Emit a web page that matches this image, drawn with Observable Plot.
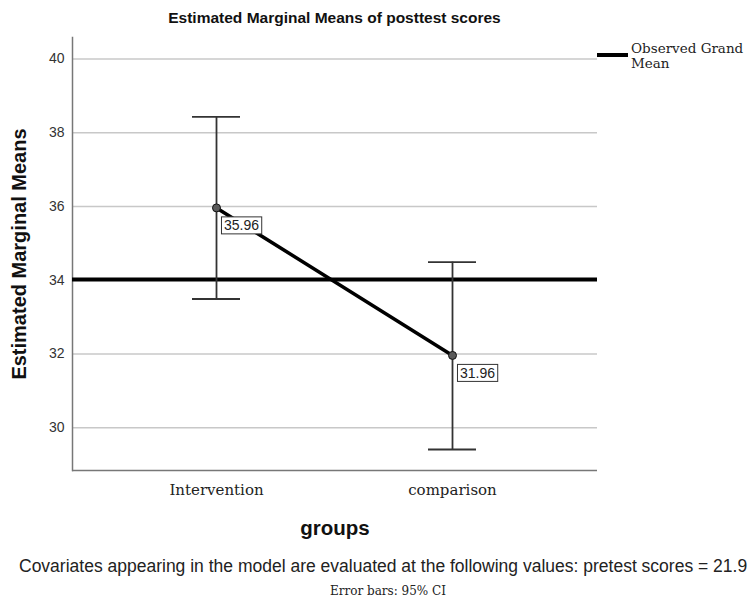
<!DOCTYPE html>
<html><head><meta charset="utf-8">
<script src="https://cdn.jsdelivr.net/npm/d3@7"></script>
<script src="https://cdn.jsdelivr.net/npm/@observablehq/plot@0.6"></script>
<style>
body{margin:0;background:#fff;width:749px;height:606px;overflow:hidden;position:relative;font-family:"Liberation Sans",Arial,sans-serif;color:#111;}
#title{position:absolute;top:8px;left:72px;width:525px;text-align:center;font-weight:bold;font-size:15.5px;line-height:20px;}
#chart{position:absolute;top:30px;left:0;}
#legend{position:absolute;left:597px;top:41px;}
#legend .sw{position:absolute;left:0;top:12px;width:31px;height:4px;background:#000;}
#legend .tx{position:absolute;left:34px;top:0;font-family:"DejaVu Serif",serif;font-size:13.5px;line-height:15px;white-space:nowrap;color:#222;}
#cov{position:absolute;left:19px;top:556px;font-size:17.5px;line-height:20px;white-space:nowrap;color:#222;}
#err{position:absolute;left:0;width:776px;text-align:center;top:582px;font-family:"DejaVu Serif",serif;font-size:12px;line-height:18px;color:#222;}
</style></head><body>
<div id="title"></div>
<div id="chart"></div>
<div id="legend"><div class="sw"></div><div class="tx">Observed Grand<br>Mean</div></div>
<div id="cov"></div>
<div id="err"></div>
<script>
const titleText = "Estimated Marginal Means of posttest scores";
const groups = ["Intervention", "comparison"];
const means = [35.96, 31.96];
const ciLow = [33.49, 29.41];
const ciHigh = [38.43, 34.49];
const grandMean = [34.02];
const yTicks = [30, 32, 34, 36, 38, 40];
const yDomain = [28.84, 40.58];
const xTitle = "groups";
const yTitle = "Estimated Marginal Means";
const covText = "Covariates appearing in the model are evaluated at the following values: pretest scores = 21.9";
const errText = "Error bars: 95% CI";

document.getElementById("title").textContent = titleText;
document.getElementById("cov").textContent = covText;
document.getElementById("err").textContent = errText;

const data = groups.map((g, i) => ({group: g, mean: means[i], lo: ciLow[i], hi: ciHigh[i]}));

const chart = Plot.plot({
  width: 749,
  height: 515,
  marginLeft: 72,
  marginRight: 152,
  marginTop: 7,
  marginBottom: 75,
  style: {fontFamily: "Liberation Sans, Arial, sans-serif", background: "#fff", color: "#222"},
  x: {type: "band", domain: groups, paddingInner: 0.796, paddingOuter: 0.51},
  y: {domain: yDomain},
  marks: [
    Plot.gridY(yTicks, {stroke: "#c8c8c8", strokeOpacity: 1, strokeWidth: 1.5}),
    Plot.ruleY([yDomain[0]], {stroke: "#777", strokeWidth: 1.5}),
    Plot.frame({anchor: "left", stroke: "#777", strokeWidth: 1.5}),
    Plot.axisY(yTicks, {tickSize: 0, tickPadding: 8, fontSize: 14, label: null, fill: "#333"}),
    Plot.axisX({tickSize: 0, tickPadding: 14, fontSize: 15, fontFamily: "DejaVu Serif, serif", label: null, fill: "#222"}),
    Plot.text([yTitle], {frameAnchor: "left", textAnchor: "middle", lineAnchor: "middle", rotate: -90, dx: -53, fontSize: 20, fontWeight: "bold", fill: "#111"}),
    Plot.text([xTitle], {frameAnchor: "bottom", lineAnchor: "middle", dy: 58, fontSize: 20.5, fontWeight: "bold", fill: "#111"}),
    Plot.ruleY(grandMean, {stroke: "#000", strokeWidth: 4}),
    Plot.ruleX(data, {x: "group", y1: "lo", y2: "hi", stroke: "#333", strokeWidth: 1.8}),
    Plot.tickY(data, {x: "group", y: "lo", stroke: "#333", strokeWidth: 1.8}),
    Plot.tickY(data, {x: "group", y: "hi", stroke: "#333", strokeWidth: 1.8}),
    Plot.line(data, {x: "group", y: "mean", stroke: "#000", strokeWidth: 3.5}),
    Plot.dot(data, {x: "group", y: "mean", r: 4, fill: "#5a5a5a", stroke: "#111", strokeWidth: 1}),
    Plot.text(data, {x: "group", y: "mean", text: d => d.mean.toFixed(2), dx: 25, dy: 18, fontSize: 14, fill: "#222", className: "vlab"})
  ]
});
document.getElementById("chart").append(chart);

// draw boxes behind value labels
chart.querySelectorAll(".vlab text").forEach(t => {
  const b = t.getBBox();
  const r = document.createElementNS("http://www.w3.org/2000/svg", "rect");
  r.setAttribute("x", b.x - 2.5);
  r.setAttribute("y", b.y - 0.5);
  r.setAttribute("width", b.width + 5);
  r.setAttribute("height", b.height + 1);
  r.setAttribute("fill", "#fff");
  r.setAttribute("stroke", "#333");
  r.setAttribute("stroke-width", 1);
  if (t.getAttribute("transform")) r.setAttribute("transform", t.getAttribute("transform"));
  t.parentNode.insertBefore(r, t);
});
</script>
</body></html>
